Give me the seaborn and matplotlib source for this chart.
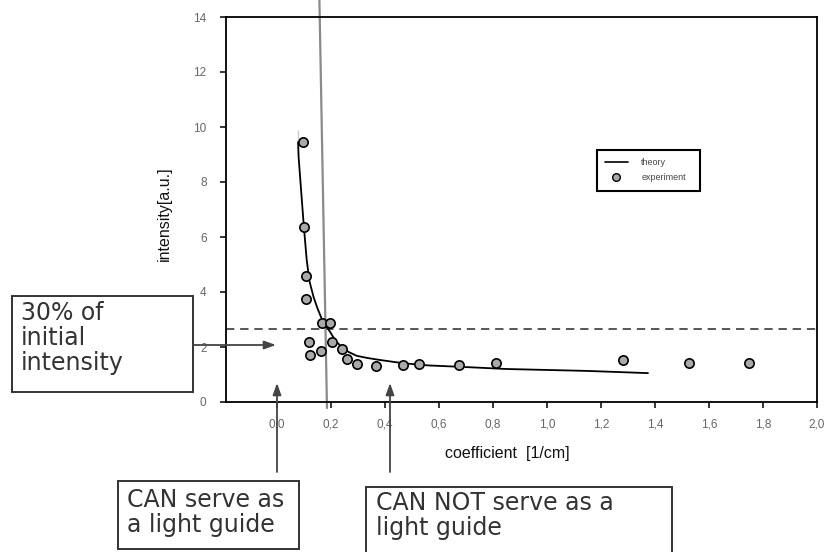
import matplotlib
matplotlib.use("Agg")
import matplotlib.pyplot as plt
import seaborn as sns
import pandas as pd
from matplotlib.patches import Rectangle, FancyArrowPatch
from matplotlib.lines import Line2D

# ---- data ----
theory_x = [0.078, 0.078, 0.080, 0.093, 0.100, 0.110, 0.120, 0.135, 0.150, 0.165,
            0.180, 0.196, 0.215, 0.240, 0.265, 0.295, 0.335, 0.380, 0.467, 0.560,
            0.700, 0.850, 1.150, 1.374]
theory_y = [9.90, 9.00, 8.90, 7.20, 6.30, 5.16, 4.40, 3.83, 3.40, 3.04,
            2.78, 2.56, 2.25, 1.99, 1.82, 1.68, 1.60, 1.53, 1.41, 1.33,
            1.27, 1.20, 1.13, 1.05]

exp_x = [0.095, 0.101, 0.107, 0.107, 0.165, 0.196, 0.119, 0.122, 0.162, 0.205,
         0.239, 0.258, 0.297, 0.365, 0.466, 0.524, 0.675, 0.810, 1.283, 1.527, 1.749]
exp_y = [9.44, 6.37, 4.59, 3.73, 2.88, 2.86, 2.19, 1.71, 1.87, 2.17,
         1.92, 1.56, 1.38, 1.31, 1.35, 1.38, 1.35, 1.41, 1.53, 1.43, 1.43]

threshold = 2.65          # 30% of initial intensity (dashed line)
x_ticks = [0.0, 0.2, 0.4, 0.6, 0.8, 1.0, 1.2, 1.4, 1.6, 1.8, 2.0]
x_ticklabels = ["0,0", "0,2", "0,4", "0,6", "0,8", "1,0", "1,2", "1,4", "1,6", "1,8", "2,0"]
y_ticks = [0, 2, 4, 6, 8, 10, 12, 14]

sns.set_style("ticks")
plt.rcParams["font.family"] = ["Liberation Sans", "DejaVu Sans"]

W, H = 828, 552
fig = plt.figure(figsize=(W / 100, H / 100), dpi=100)

def fx(x):
    return x / W

def fy(y):
    return 1 - y / H

AX_L, AX_R, AX_T, AX_B = 226, 817, 17, 402
ax = fig.add_axes([fx(AX_L), fy(AX_B), (AX_R - AX_L) / W, (AX_B - AX_T) / H])
ax.set_facecolor("none")

theory = pd.DataFrame({"x": theory_x, "y": theory_y})
exp = pd.DataFrame({"x": exp_x, "y": exp_y})

sns.lineplot(data=theory, x="x", y="y", sort=False, color="black", lw=1.3,
             ax=ax, zorder=3)
sns.scatterplot(data=exp, x="x", y="y", s=45, color="#a9a9a9", edgecolor="black",
                linewidth=1.2, ax=ax, zorder=4)

ax.axhline(threshold, color="#3a3a3a", lw=1.2, ls=(0, (5, 3.5)), zorder=2)

# slanted gray marker line reaching above the axes
ax.plot([0.157, 0.185], [14.62, -0.22], color="#8a8a8a", lw=1.6, clip_on=False, zorder=2)

ax.set_xlim(-0.189, 2.0)
ax.set_ylim(0, 14)
ax.set_xticks(x_ticks)
ax.set_xticklabels(x_ticklabels)
ax.set_yticks(y_ticks)
ax.tick_params(axis="both", direction="out", length=4, width=1.1, colors="black",
               labelsize=8.5, labelcolor="#666666")
ax.tick_params(axis="x", pad=8)
ax.tick_params(axis="y", pad=10)
for s in ax.spines.values():
    s.set_linewidth(1.3)
    s.set_color("black")

ax.set_xlabel("coefficient  [1/cm]", fontsize=11.5, color="#111111")
ax.set_ylabel("intensity[a.u.]", fontsize=11.5, color="#111111")
ax.xaxis.set_label_coords((507 - AX_L) / (AX_R - AX_L), -0.115)
ax.yaxis.set_label_coords(-(AX_L - 172) / (AX_R - AX_L), (AX_B - 214) / (AX_B - AX_T))

handles = [Line2D([], [], color="black", lw=1.2),
           Line2D([], [], ls="", marker="o", markersize=5.5, markerfacecolor="#a9a9a9",
                  markeredgecolor="black", markeredgewidth=1.0)]
lx0, lx1, ly0, ly1 = 597, 700, 150, 193
leg = ax.legend(handles, ["theory", "experiment"], loc="upper left", mode="expand",
                bbox_to_anchor=((lx0 - AX_L) / (AX_R - AX_L), (AX_B - ly1) / (AX_B - AX_T),
                                (lx1 - lx0) / (AX_R - AX_L), (ly1 - ly0) / (AX_B - AX_T)),
                fontsize=6.5, frameon=True, fancybox=False, framealpha=1,
                edgecolor="black", handlelength=2.5, handletextpad=1.5,
                borderpad=0.9, labelspacing=0.7, borderaxespad=0)
leg.get_frame().set_linewidth(1.5)
for t in leg.get_texts():
    t.set_color("#444444")

# ---- annotation boxes ----
txt_kw = dict(fontsize=17, color="#333333", family="DejaVu Sans", va="top", ha="left",
              linespacing=1.05, transform=fig.transFigure, zorder=20)

def box(x0, y0, x1, y1):
    fig.add_artist(Rectangle((fx(x0), fy(y1)), fx(x1) - fx(x0), fy(y0) - fy(y1),
                             transform=fig.transFigure, fill=False, ec="#333333",
                             lw=1.4, clip_on=False, zorder=20))

box(12, 296, 193, 392)
fig.text(fx(21), fy(301), "30% of\ninitial\nintensity", **txt_kw)

box(118, 481, 299, 549)
fig.text(fx(127), fy(488), "CAN serve as\na light guide", **txt_kw)

box(366, 487, 672, 560)
fig.text(fx(376), fy(491), "CAN NOT serve as a\nlight guide", **txt_kw)

def arrow(p0, p1):
    fig.add_artist(FancyArrowPatch((fx(p0[0]), fy(p0[1])), (fx(p1[0]), fy(p1[1])),
                                   transform=fig.transFigure,
                                   arrowstyle="-|>,head_length=7,head_width=2.5",
                                   color="#444444", lw=1.3, shrinkA=0, shrinkB=0,
                                   mutation_scale=1, zorder=20))

arrow((277, 472), (277, 383))
arrow((390, 472), (390, 383))
arrow((193, 345), (276, 345))

fig.savefig("out.png", dpi=100)
